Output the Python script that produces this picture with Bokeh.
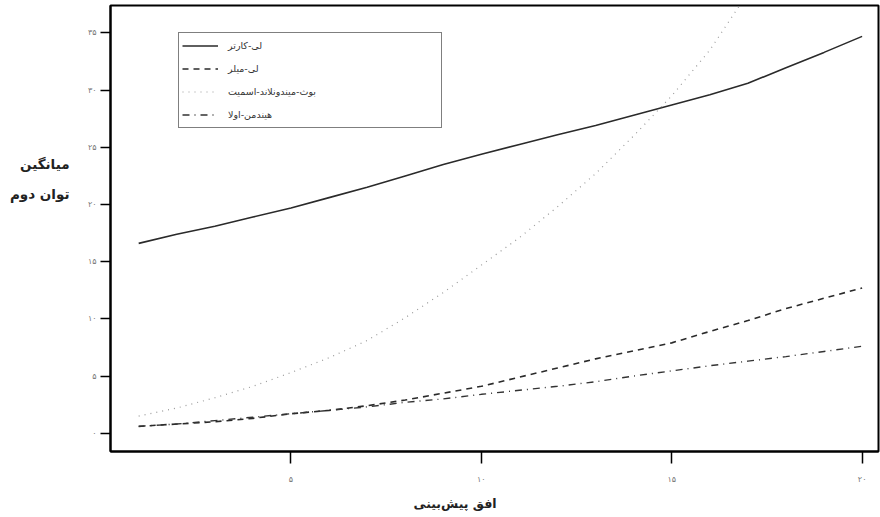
from bokeh.plotting import figure
from bokeh.layouts import row
from bokeh.models import Range1d, FixedTicker, Legend, LegendItem, Title
from bokeh.core.properties import value
from bokeh.embed import file_html
from bokeh.resources import INLINE

horizon = list(range(1, 21))
lee_carter = [16.6, 17.4, 18.1, 18.9, 19.7, 20.6, 21.5, 22.5, 23.5, 24.4,
              25.25, 26.1, 26.9, 27.8, 28.7, 29.6, 30.6, 31.95, 33.3, 34.7]
lee_miller = [0.6, 0.8, 1.0, 1.3, 1.7, 2.0, 2.4, 2.9, 3.5, 4.1,
              4.9, 5.7, 6.5, 7.2, 7.9, 8.9, 9.85, 10.9, 11.8, 12.7]
bms = [1.5, 2.2, 3.1, 4.1, 5.3, 6.6, 8.1, 10.1, 12.3, 14.7,
       17.1, 19.8, 22.7, 26.0, 29.5, 33.5, 38.5, 44.0, 50.0, 56.0]
hyndman_ullah = [0.6, 0.8, 1.1, 1.4, 1.7, 2.0, 2.3, 2.7, 3.0, 3.4,
                 3.75, 4.1, 4.5, 5.0, 5.45, 5.9, 6.3, 6.7, 7.15, 7.6]

series_names = ["لی-کارتر", "لی-میلر", "بوث-میندونلاند-اسمیت", "هیندمن-اولا"]
x_ticks = [5, 10, 15, 20]
x_tick_labels = ["۵", "۱۰", "۱۵", "۲۰"]
y_ticks = [0, 5, 10, 15, 20, 25, 30, 35]
y_tick_labels = ["۰", "۵", "۱۰", "۱۵", "۲۰", "۲۵", "۳۰", "۳۵"]
x_title = "افق پیش‌بینی"
y_title_lines = ["میانگین", "توان دوم"]

FONT = "DejaVu Sans"

# left strip holding the two-line y title (its frame aligns with the main frame,
# so the range maps 1:1 onto pixels counted from the page bottom)
side = figure(width=72, height=517, output_backend="svg", toolbar_location=None,
              x_range=Range1d(0, 72), y_range=Range1d(67, 512),
              x_axis_location=None, y_axis_location=None,
              min_border=0)
side.outline_line_color = None
side.background_fill_color = "white"
side.border_fill_color = "white"
side.xgrid.visible = False
side.ygrid.visible = False
side.text(x=[69, 69], y=[354, 324], text=y_title_lines,
          text_align="right", text_baseline="middle",
          text_font=value(FONT), text_font_style="bold",
          text_font_size="13.5px", text_color="#222222")

p = figure(width=808, height=517, output_backend="svg", toolbar_location=None,
           x_range=Range1d(0.26, 20.43), y_range=Range1d(-1.6, 37.4),
           min_border_left=38, min_border_right=2, min_border_top=5, min_border_bottom=4)
p.background_fill_color = "white"
p.border_fill_color = "white"
p.outline_line_color = "black"
p.outline_line_width = 2
p.xgrid.visible = False
p.ygrid.visible = False

for ax in (p.xaxis[0], p.yaxis[0]):
    ax.axis_line_color = "black"
    ax.axis_line_width = 2
    ax.major_tick_line_color = "black"
    ax.major_tick_line_width = 1.5
    ax.minor_tick_line_color = None
    ax.major_tick_in = 0
    ax.major_label_text_color = "#777777"
    ax.major_label_text_font = FONT
    ax.major_label_text_font_size = "8px"

p.xaxis.ticker = FixedTicker(ticks=x_ticks)
p.xaxis.major_label_overrides = dict(zip(x_ticks, x_tick_labels))
p.xaxis.major_tick_out = 12
p.xaxis.major_label_standoff = 11

p.yaxis.ticker = FixedTicker(ticks=y_ticks)
p.yaxis.major_label_overrides = dict(zip(y_ticks, y_tick_labels))
p.yaxis.major_tick_out = 10
p.yaxis.major_label_standoff = 4
p.yaxis.major_label_orientation = "horizontal"

xt = Title(text=x_title, align="left", offset=303, standoff=14,
           text_font=FONT, text_font_style="bold", text_font_size="12.5px",
           text_color="#222222")
p.add_layout(xt, "below")

r1 = p.line(horizon, lee_carter, line_color="#2a2a2a", line_width=1.6)
r2 = p.line(horizon, lee_miller, line_color="#2a2a2a", line_width=1.6, line_dash="6 5")
r3 = p.line(horizon, bms, line_color="#9a9a9a", line_width=1.2, line_dash="1 5")
r4 = p.line(horizon, hyndman_ullah, line_color="#333333", line_width=1.4, line_dash="7 5 1 5")

legend = Legend(items=[LegendItem(label=series_names[i], renderers=[r])
                       for i, r in enumerate([r1, r2, r3, r4])],
                location=(68, 323))
legend.border_line_color = "black"
legend.border_line_width = 1.5
legend.label_text_font = FONT
legend.label_text_font_size = "9.5px"
legend.label_text_color = "#333333"
legend.glyph_width = 36
legend.glyph_height = 19
legend.label_height = 19
legend.label_width = 210
legend.spacing = 4
legend.padding = 3
legend.margin = 0
legend.label_standoff = 10
legend.background_fill_alpha = 1
p.add_layout(legend, "center")

layout = row(side, p, spacing=0)
open("out.html", "w").write(file_html(layout, INLINE))
